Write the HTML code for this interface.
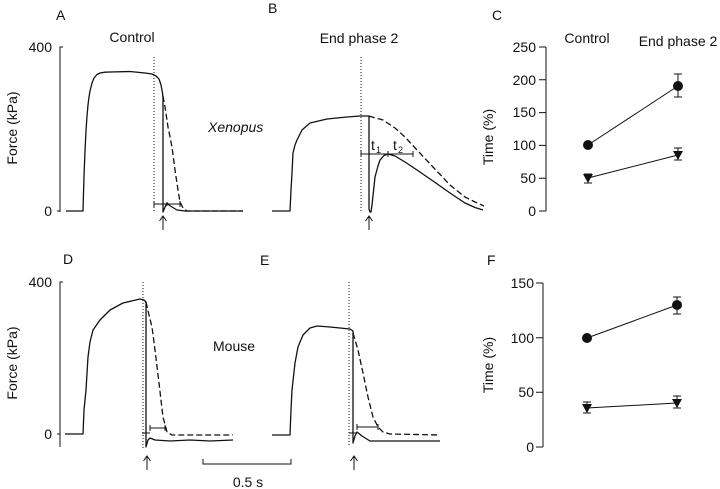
<!DOCTYPE html>
<html><head><meta charset="utf-8"><style>
html,body{margin:0;padding:0;background:#fff;}
svg{display:block;}
text{font-family:"Liberation Sans",Arial,sans-serif;fill:#111;}
</style></head><body>
<svg width="720" height="489" viewBox="0 0 720 489" xmlns="http://www.w3.org/2000/svg">
<g font-size="14">
<text x="56" y="20">A</text>
<text x="268" y="13">B</text>
<text x="492" y="20">C</text>
<text x="63" y="264">D</text>
<text x="260" y="265">E</text>
<text x="487" y="265">F</text>
<text x="132" y="42" text-anchor="middle">Control</text>
<text x="359" y="43" text-anchor="middle">End phase 2</text>
<text x="587" y="43" text-anchor="middle">Control</text>
<text x="678" y="46" text-anchor="middle">End phase 2</text>
<text x="208" y="132" font-style="italic">Xenopus</text>
<text x="213" y="351">Mouse</text>
<text x="248" y="487" text-anchor="middle">0.5 s</text>
<text x="52" y="52" text-anchor="end">400</text>
<text x="52" y="216" text-anchor="end">0</text>
<text x="52" y="287" text-anchor="end">400</text>
<text x="52" y="439" text-anchor="end">0</text>
<text transform="translate(17,128) rotate(-90)" text-anchor="middle">Force (kPa)</text>
<text transform="translate(17,363) rotate(-90)" text-anchor="middle">Force (kPa)</text>
<text transform="translate(493,137) rotate(-90)" text-anchor="middle">Time (%)</text>
<text transform="translate(493,365) rotate(-90)" text-anchor="middle">Time (%)</text>
<g text-anchor="end">
<text x="536" y="52">250</text>
<text x="536" y="85">200</text>
<text x="536" y="117">150</text>
<text x="536" y="150">100</text>
<text x="536" y="183">50</text>
<text x="536" y="216">0</text>
<text x="534" y="288">150</text>
<text x="534" y="343">100</text>
<text x="534" y="397">50</text>
<text x="534" y="452">0</text>
</g>
<text x="371" y="150">t</text><text x="376" y="153" font-size="9">1</text>
<text x="393" y="150">t</text><text x="398" y="153" font-size="9">2</text>
</g>

<g fill="none" stroke="#111" stroke-width="1">
<!-- axes A/D -->
<path d="M63,47 L60,47 L60,212 M57,211 L60,211"/>
<path d="M63,282 L60,282 L60,447 M57,434 L60,434"/>
<!-- axes C -->
<path d="M546,47 L546,211 M539,47 L546,47 M539,79.8 L546,79.8 M539,112.6 L546,112.6 M539,145.4 L546,145.4 M539,178.2 L546,178.2 M539,211 L546,211"/>
<!-- axes F -->
<path d="M543,283 L543,447 M536,283 L543,283 M536,337.7 L543,337.7 M536,392.3 L543,392.3 M536,447 L543,447"/>
<!-- scale bar -->
<path d="M203,459 L203,464 L291,464 L291,459"/>
<!-- dotted lines -->
<g stroke-dasharray="1,2">
<path d="M154,57 L154,213"/>
<path d="M361,57 L361,213"/>
<path d="M143,282 L143,448"/>
<path d="M349,282 L349,447"/>
</g>
<!-- arrows -->
<path d="M163,230 L163,216 M159.5,221 L163,216 L166.5,221"/>
<path d="M369,230 L369,216 M365.5,221 L369,216 L372.5,221"/>
<path d="M147,470 L147,456 M143.5,461 L147,456 L150.5,461"/>
<path d="M354,470 L354,456 M350.5,461 L354,456 L357.5,461"/>
<!-- bars -->
<path d="M154,204 L180,204 M154,201 L154,207 M180,201 L180,207 M167,202 L167,206"/>
<path d="M361,154 L413,154 M361,151 L361,157 M388,151 L388,157 M413,151 L413,157"/>
<path d="M150,428 L165,428 M150,425 L150,431 M165,425 L165,431 M142,433 L150,433"/>
<path d="M357,427 L378,427 M357,424 L357,430 M378,424 L378,430 M349,433 L357,433"/>
</g>

<g fill="none" stroke="#111" stroke-width="1.3" stroke-linejoin="round">
<!-- A solid -->
<polyline points="66,211 83,211 84,176 85,151 86,131 87,116 88,105 89,97 90,91 92,83 94,78 97,74.5 100,73 105,72.2 110,72 130,71.5 145,73 152,74 156,76 159,79 161,85 162.5,93 163,98 163,212 165,207 167,203 169,205 172,207 177,210 185,211 243,211"/>
<!-- A dashed -->
<polyline stroke-dasharray="6,3" points="163,96 165,107 168,127 172,147 175,170 178,190 180,202 183,208 187,211 243,211"/>
<!-- B solid -->
<polyline points="272,211 290,211 291,190 292,173 293,153 295,145 297,140 302,130 310,123 327,119 347,117 360,116 369,116 369,209 370,212 371,212 372,205 375,177 378,166 380,160 384,155.5 388,154 395,156 405,162 417,170 433,181 450,193 465,203 475,207.5 483,210"/>
<!-- B dashed -->
<polyline stroke-dasharray="6,3" points="369,116 372,117 383,120 395,128 405,137 417,150 433,167 450,185 465,197 475,202 484,206"/>
<!-- D solid -->
<polyline points="65,434 83,434 84,410 86,390 88,357 90,342 93,330 100,320 110,310 123,303 140,299 144,300 146,302 146,447 148,440 150,438 155,440 170,441 190,440 210,441 233,440"/>
<!-- D dashed -->
<polyline stroke-dasharray="6,3" points="146,302 149,315 152,327 155,350 159,383 163,417 167,432 172,435 233,435"/>
<!-- E solid -->
<polyline points="272,435 290,435 291,410 292,390 295,363 298,347 303,335 310,328 317,326 330,327 350,329 353,331 353,443 355,436 357,432 362,436 370,441 440,441"/>
<!-- E dashed -->
<polyline stroke-dasharray="6,3" points="353,333 358,350 363,373 368,397 373,417 378,427 383,432 390,434 440,435"/>
</g>

<!-- C data -->
<g stroke="#111" stroke-width="1" fill="none">
<path d="M588,145 L678,86 M588,178 L678,155"/>
<path d="M678,74 L678,97 M674,74 L682,74 M674,97 L682,97"/>
<path d="M678,148 L678,160 M674,148 L682,148 M674,160 L682,160"/>
<path d="M588,174 L588,183 M584,174 L592,174 M584,183 L592,183"/>
<path d="M587,338 L677,305 M587,408 L677,403"/>
<path d="M677,297 L677,314 M673,297 L681,297 M673,314 L681,314"/>
<path d="M677,396 L677,408 M673,396 L681,396 M673,408 L681,408"/>
<path d="M587,402 L587,413 M583,402 L591,402 M583,413 L591,413"/>
</g>
<g fill="#111">
<circle cx="588" cy="145" r="5"/>
<circle cx="678" cy="86" r="5"/>
<polygon points="583,174 593,174 588,183"/>
<polygon points="673,151 683,151 678,160"/>
<circle cx="587" cy="338" r="5"/>
<circle cx="677" cy="305" r="5"/>
<polygon points="582,404 592,404 587,413"/>
<polygon points="672,399 682,399 677,408"/>
</g>
</svg>
</body></html>
